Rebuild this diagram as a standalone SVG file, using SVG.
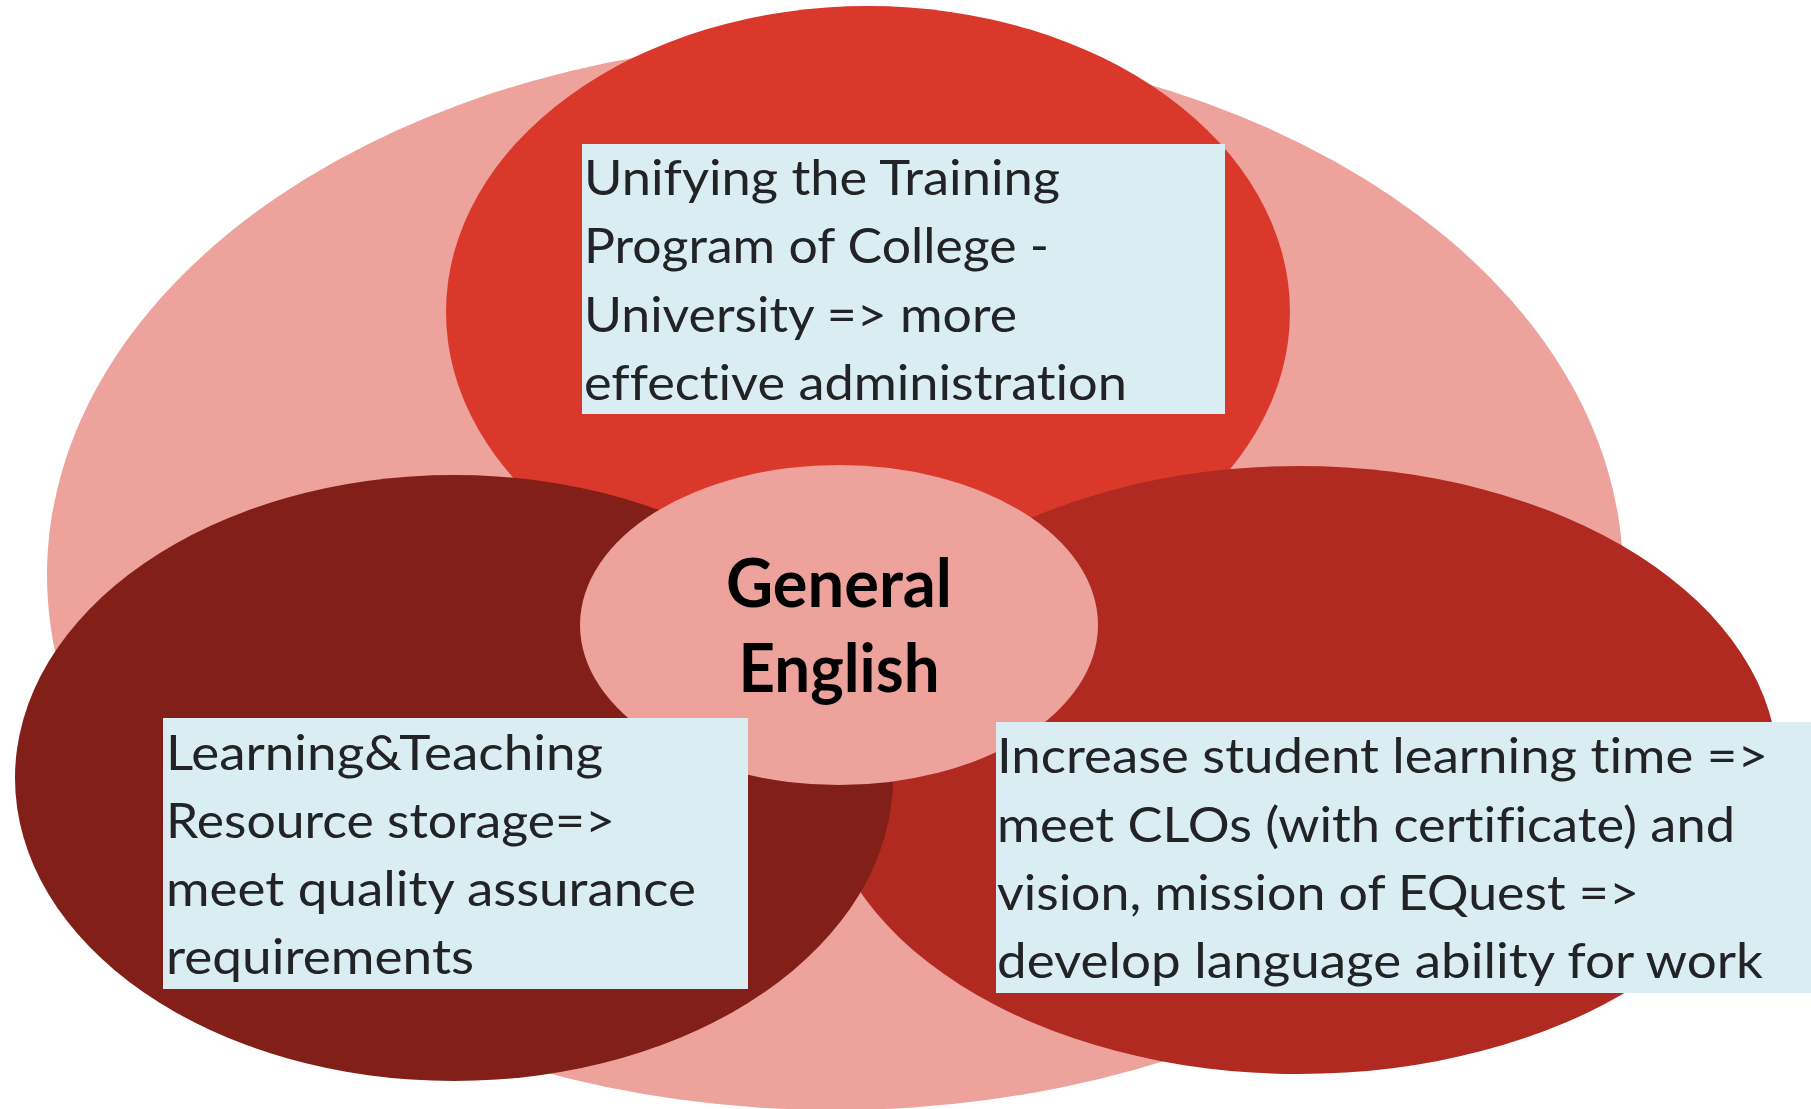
<svg xmlns="http://www.w3.org/2000/svg" width="1811" height="1109" viewBox="0 0 1811 1109">
<style>
.body{font-family:Lato,"Open Sans","Liberation Sans",sans-serif;font-size:49px;fill:#212326;font-variant-ligatures:none}
.center{font-family:Lato,"Open Sans","Liberation Sans",sans-serif;font-size:66px;font-weight:bold;fill:#000;text-anchor:middle}
.box{fill:#DAEDF3}
</style>
<rect width="1811" height="1109" fill="#ffffff"/>
<g id="background">
<ellipse cx="835" cy="575" rx="788" ry="535" fill="#EDA29B"/>
</g>
<g id="top-circle">
<ellipse cx="868" cy="312" rx="422" ry="306" fill="#D9382A"/>
</g>
<g id="right-circle">
<ellipse cx="1299" cy="770" rx="479" ry="304" fill="#B02A22"/>
</g>
<g id="left-circle">
<ellipse cx="454" cy="778" rx="439" ry="303" fill="#821F18"/>
</g>
<g id="center">
<ellipse cx="839" cy="625" rx="259" ry="160" fill="#EDA29B"/>
<text class="center" x="839" y="607" textLength="226" lengthAdjust="spacingAndGlyphs">General</text>
<text class="center" x="839" y="692" textLength="201" lengthAdjust="spacingAndGlyphs">English</text>
</g>
<g id="top-box">
<rect class="box" x="582" y="144" width="643" height="270"/>
<text class="body" x="584" y="195" textLength="476" lengthAdjust="spacingAndGlyphs">Unifying the Training</text>
<text class="body" x="584" y="263" textLength="465" lengthAdjust="spacingAndGlyphs">Program of College -</text>
<text class="body" x="584" y="332" textLength="433" lengthAdjust="spacingAndGlyphs">University =&gt; more</text>
<text class="body" x="584" y="400" textLength="543" lengthAdjust="spacingAndGlyphs">effective administration</text>
</g>
<g id="left-box">
<rect class="box" x="163" y="718" width="585" height="271"/>
<text class="body" x="166" y="770" textLength="437" lengthAdjust="spacingAndGlyphs">Learning&amp;Teaching</text>
<text class="body" x="166" y="838" textLength="449" lengthAdjust="spacingAndGlyphs">Resource storage=&gt;</text>
<text class="body" x="166" y="906" textLength="530" lengthAdjust="spacingAndGlyphs">meet quality assurance</text>
<text class="body" x="166" y="974" textLength="308" lengthAdjust="spacingAndGlyphs">requirements</text>
</g>
<g id="right-box">
<rect class="box" x="996" y="722" width="815" height="271"/>
<text class="body" x="997" y="773" textLength="771" lengthAdjust="spacingAndGlyphs">Increase student learning time =&gt;</text>
<text class="body" x="997" y="842" textLength="738" lengthAdjust="spacingAndGlyphs">meet CLOs (with certificate) and</text>
<text class="body" x="997" y="910" textLength="642" lengthAdjust="spacingAndGlyphs">vision, mission of EQuest =&gt;</text>
<text class="body" x="997" y="978" textLength="766" lengthAdjust="spacingAndGlyphs">develop language ability for work</text>
</g>
<g id="connectors"></g>
</svg>
